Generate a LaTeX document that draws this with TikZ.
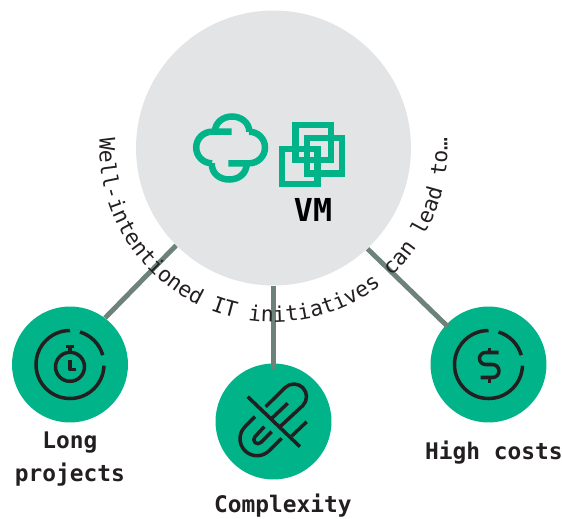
\documentclass[tikz,border=0pt]{standalone}
\usepackage{fontspec}
\usepackage{tikz}
\usetikzlibrary{decorations.text}
\newfontfamily\curvefont{DejaVu Sans Mono}
\newfontfamily\labelfont[BoldFont={DejaVu Sans Mono Bold}]{DejaVu Sans Mono}
\definecolor{vmgreen}{RGB}{0,179,136}
\definecolor{vmgray}{RGB}{227,228,230}
\definecolor{linkgray}{RGB}{110,130,124}
\definecolor{inkdark}{RGB}{35,31,32}
\tikzset{
  bigdisc/.style={circle,fill=vmgray,minimum size=5.5cm,inner sep=0pt},
  smalldisc/.style={circle,fill=vmgreen,minimum size=2.32cm,inner sep=0pt},
  link/.style={line width=2.8pt,color=linkgray,line cap=butt},
  vmicon/.style={line width=3.7pt,color=vmgreen,line cap=butt,line join=miter},
  darkicon/.style={line width=2pt,color=inkdark,line cap=butt},
  caption/.style={font=\labelfont\bfseries\fontsize{13}{18.8}\selectfont,color=inkdark,align=center,inner sep=0pt}
}
\begin{document}
\begin{tikzpicture}[line cap=round,line join=round,x=0.02cm,y=-0.02cm]
\useasboundingbox (0,0) rectangle (562,518);
\node [bigdisc] (vm) at (273.5,148) {};
\node [smalldisc] (long) at (70,364.5) {};
\node [smalldisc] (mid) at (273.5,421.5) {};
\node [smalldisc] (high) at (488.5,364.5) {};
% connectors
\draw [link] (vm.225) -- (long.53);
\draw [link,shorten >=-3.4pt] (vm.south) -- (mid.north);
\draw [link,shorten >=-1.5pt] (vm.-47) -- (high.137);
% cloud
\draw [vmicon] (231.7,131.7) -- (212,131.7) arc (-90:-270:15.8) -- (211.7,163.3) .. controls (211.7,174) and (220,179.5) .. (229.2,179.5) .. controls (238.4,179.5) and (246.7,174) .. (246.7,163.3);
\draw [vmicon] (228.3,163.3) -- (249.2,163.3) arc (90:-90:15.8) -- (249.3,131.7) .. controls (249.3,122.5) and (241,116.5) .. (232,116.5) .. controls (223,116.5) and (215,122.5) .. (215,131.7);
% squares
\draw [vmicon] (295.7,125) rectangle (331,160);
\draw [vmicon] (307.2,138.2) rectangle (341.8,173.5);
\draw [vmicon] (282.2,148.9) rectangle (317.5,184.1);
\node (vmtext) at (313,209.5) {\labelfont\bfseries\fontsize{18}{18}\selectfont VM};
% rings
\foreach \c in {long,high} {
  \begin{scope}[shift={(\c)}]
    \draw [darkicon] (0,-34) arc (-90:-358:34);
    \draw [darkicon] (10,-32.5) arc (-73:-16:34);
  \end{scope}
}
% clock
\begin{scope}[shift={(long)}]
  \draw [darkicon] (0,2.3) circle (14.5);
  \draw [darkicon] (0,-14) -- (0,-18);
  \draw [darkicon] (-4,-18) -- (4,-18);
  \draw [darkicon] (0,-4.3) -- (0,5) -- (5.7,5);
\end{scope}
% dollar
\begin{scope}[shift={(high)}]
  \draw [darkicon] (10,-12) -- (-3,-12) arc (-90:-270:6) -- (4,0) arc (-90:90:6.5) -- (-8,13);
  \draw [darkicon] (1,-17) -- (1,-12);
  \draw [darkicon] (1,13) -- (1,18);
\end{scope}
% paper clip
\begin{scope}[shift={(mid)}]
  \draw [darkicon] (-25.8,-24.8) -- (26.5,25.2);
  \draw [darkicon] (-7.8,-14.8) -- (11.5,-33.8) arc (-135:45:12.6) -- (6.5,5.2);
  \draw [darkicon] (14.2,-18.2) -- (-3.5,-1.5);
  \draw [darkicon] (33.2,0.2) -- (18.2,14.5);
  \draw [darkicon] (-18.5,-4.8) -- (-28.5,5.2) arc (-135:-315:17) -- (8.2,16.8);
  \draw [darkicon] (-9.2,5.2) -- (-18.5,15.2) arc (-135:-315:4.1) -- (-1.8,10.2);
\end{scope}
% curved text
\path [decorate,decoration={text along path,text align=center,
  text={|\curvefont\fontsize{12.2}{12.2}\selectfont\color{inkdark}|Well-intentioned IT initiatives can lead to…}}]
  (99.7,138.9) arc (183:-3:174);
% labels
\node [caption] (longtext) at (70,459.5) {Long\\projects};
\node [caption] (midtext) at (283,505.5) {Complexity};
\node [caption] (hightext) at (494,452.5) {High costs};
\end{tikzpicture}
\end{document}
